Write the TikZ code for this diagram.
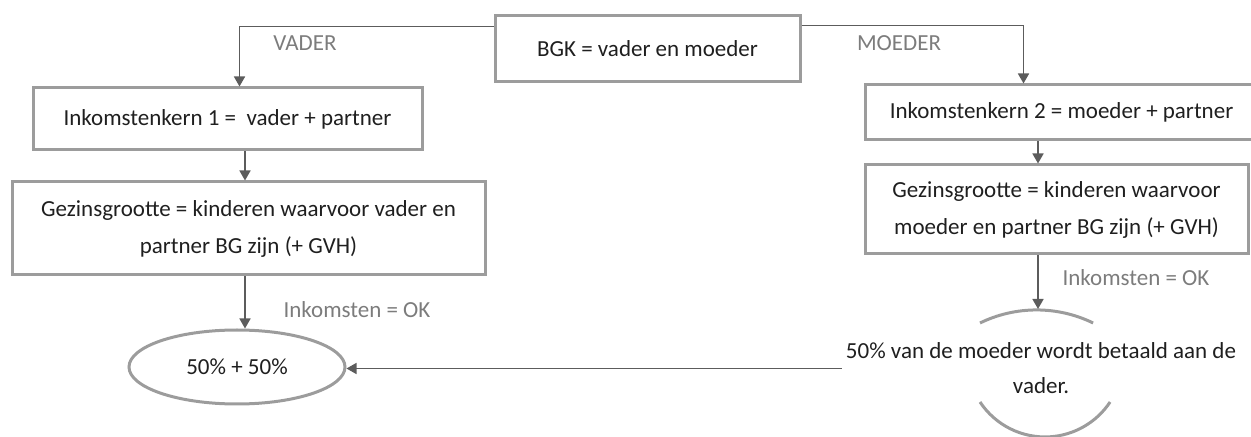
\documentclass[tikz,border=0pt]{standalone}
\usepackage{fontspec}
\setmainfont{Carlito}
\usepackage{xcolor}
\usepackage{tikz}
\usetikzlibrary{arrows.meta,positioning,shapes.geometric}

\definecolor{boxgray}{HTML}{9C9C9C}
\definecolor{linegray}{HTML}{5C5C5C}
\definecolor{labelgray}{HTML}{7C7C7C}

\tikzset{
  >={Triangle[length=5pt,width=5.5pt]},
  kernbox/.style={draw=boxgray, line width=1.5pt, align=center, inner sep=0pt,
    text=black!88, font=\fontsize{11.5}{18.5}\selectfont},
  conn/.style={draw=linegray, line width=0.8pt, ->},
  caption/.style={text=labelgray, font=\fontsize{11.5}{14}\selectfont}
}

\begin{document}
\begin{tikzpicture}[x=0.5pt,y=-0.5pt]
\useasboundingbox (0,0) rectangle (1251,437);
\path (245,0) coordinate (lcol);
\path (1038,0) coordinate (rcol);
\path (1038,309) coordinate (ringtop);
%%the boxes
\node[kernbox, minimum width=152.5pt, minimum height=33pt] (bgk) at (647.5,49) {BGK = vader en moeder};
\node[kernbox, minimum width=194.5pt, minimum height=31pt] (kern1) at (227.5,119) {Inkomstenkern 1 =\ \ vader + partner};
\node[kernbox, minimum width=236.5pt, minimum height=46.5pt] (gezin1) at (248.5,228.5) {Gezinsgrootte = kinderen waarvoor vader en\\partner BG zijn (+ GVH)};
\node[kernbox, minimum width=196.5pt, minimum height=27.5pt] (kern2) at (1061.5,112.5) {Inkomstenkern 2 = moeder + partner};
\node[kernbox, minimum width=191.5pt, minimum height=44.5pt] (gezin2) at (1056.5,209.5) {Gezinsgrootte = kinderen waarvoor\\moeder en partner BG zijn (+ GVH)};
\node[kernbox, ellipse, minimum width=108pt, minimum height=37pt] (half) at (237,367) {50\% + 50\%};
\node[align=center, inner sep=2pt, text=black!88, font=\fontsize{11.5}{17.5}\selectfont] (pay) at (1041,368.5) {50\% van de moeder wordt betaald aan de\\vader.};
%%the two arcs round the last text
\draw[boxgray, line width=1.5pt] (980,323) arc[start angle=116, end angle=64, radius=64.5pt];
\draw[boxgray, line width=1.5pt] (980,402) arc[start angle=213.5, end angle=326.5, radius=39pt];
%%connectors
\draw[conn] ([yshift=-6pt]bgk.north west) -| ([xshift=6pt]kern1.north);
\draw[conn] ([yshift=-5.5pt]bgk.north east) -| ([xshift=-19pt]kern2.north);
\draw[conn] (kern1.south -| lcol) -- (gezin1.north -| lcol);
\draw[conn] (gezin1.south -| lcol) -- (half.north -| lcol);
\draw[conn] (kern2.south -| rcol) -- (gezin2.north -| rcol);
\draw[conn] (gezin2.south -| rcol) -- (ringtop);
\draw[conn] (pay.west) -- (half.east |- pay.west);
%%finally the labels
\path (305,43) node[caption] (vader) {VADER}
(899,43) node[caption] (moeder) {MOEDER}
(357,310) node[caption] (ok1) {Inkomsten = OK}
(1136,278) node[caption] (ok2) {Inkomsten = OK};
\end{tikzpicture}
\end{document}
